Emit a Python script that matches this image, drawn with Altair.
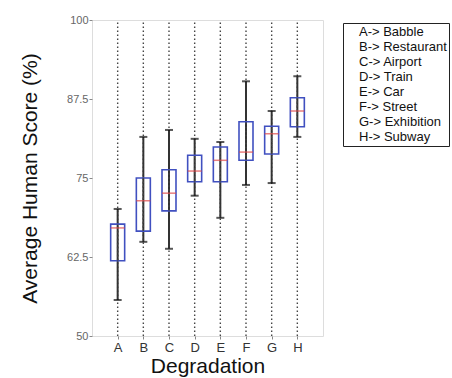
import altair as alt
import pandas as pd

categories = ["A", "B", "C", "D", "E", "F", "G", "H"]
legend_labels = ["A-> Babble", "B-> Restaurant", "C-> Airport", "D-> Train",
                 "E-> Car", "F-> Street", "G-> Exhibition", "H-> Subway"]
whisker_low = [55.7, 64.9, 63.8, 72.2, 68.7, 73.9, 74.2, 81.5]
q1 = [61.9, 66.6, 69.8, 74.4, 74.4, 77.8, 78.8, 83.1]
median = [67.1, 71.4, 72.6, 76.1, 77.8, 79.1, 82.0, 85.6]
q3 = [67.7, 75.0, 76.3, 78.6, 79.9, 83.9, 83.2, 87.7]
whisker_high = [70.1, 81.5, 82.6, 81.2, 80.7, 90.3, 85.6, 91.1]
y_ticks = [50, 62.5, 75, 87.5, 100]
y_min, y_max = 50, 100

df = pd.DataFrame({
    "cat": categories, "legend": legend_labels,
    "wlo": whisker_low, "q1": q1, "med": median, "q3": q3, "whi": whisker_high,
    "ymin": [y_min] * len(categories), "ymax": [y_max] * len(categories),
})

FONT = "Liberation Sans"
xenc = alt.X("cat:N", scale=alt.Scale(type="point", padding=1),
             axis=alt.Axis(title="Degradation", labelAngle=0, labelFontSize=13,
                           labelColor="#333", titleFontSize=21, titleFontWeight="normal",
                           titleColor="#111", titlePadding=1, domain=False,
                           tickSize=3, tickColor="#888", labelPadding=2))
yscale = alt.Scale(domain=[y_min, y_max], nice=False, zero=False)
yaxis = alt.Axis(title="Average Human Score (%)", values=y_ticks, labelFontSize=11,
                 labelColor="#666", titleFontSize=21, titleFontWeight="normal",
                 titleColor="#111", titlePadding=26, domain=False, grid=False,
                 tickSize=3, tickColor="#888", labelPadding=1,
                 labelExpr="datum.value")

base = alt.Chart(df)

dots = base.mark_rule(color="#444", strokeWidth=1.4, strokeDash=[1.5, 2.5]).encode(
    x=xenc, y=alt.Y("ymin:Q", scale=yscale, axis=yaxis), y2="ymax:Q")

whisk = base.mark_rule(color="#333", strokeWidth=2).encode(
    x="cat:N", y="wlo:Q", y2="whi:Q")

cap_lo = base.mark_tick(color="#111", size=8, thickness=2).encode(x="cat:N", y="wlo:Q")
cap_hi = base.mark_tick(color="#111", size=8, thickness=2).encode(x="cat:N", y="whi:Q")

box = base.mark_bar(size=14, fill="white", fillOpacity=0, stroke="#4050c0",
                    strokeWidth=1.6).encode(x="cat:N", y="q1:Q", y2="q3:Q")

box_dots = base.mark_rule(color="#444", strokeWidth=1.4, strokeDash=[1.5, 2.5]).encode(
    x="cat:N", y="q1:Q", y2="q3:Q")

med = base.mark_tick(color="#e04848", size=14, thickness=1.5).encode(x="cat:N", y="med:Q")

leg = base.mark_point(opacity=0).encode(
    x="cat:N", y="med:Q",
    shape=alt.Shape("legend:N", title=None, legend=alt.Legend(
        orient="none", legendX=251, legendY=3, symbolSize=0, symbolStrokeWidth=0,
        symbolOpacity=0, labelOffset=1, labelFont=FONT, labelFontSize=13,
        labelColor="#111", rowPadding=1, padding=2, strokeColor="#222",
        fillColor="white", labelLimit=300)))

chart = alt.layer(dots, whisk, cap_lo, cap_hi, box, box_dots, med, leg).properties(
    width=231, height=316,
    autosize=alt.AutoSizeParams(type="none"),
    padding={"left": 92, "top": 20, "right": 129, "bottom": 42},
    background="white",
).configure_view(stroke="#444", strokeWidth=1).configure(font=FONT)

chart.save("out.html", embed_options={"renderer": "svg", "actions": False})
